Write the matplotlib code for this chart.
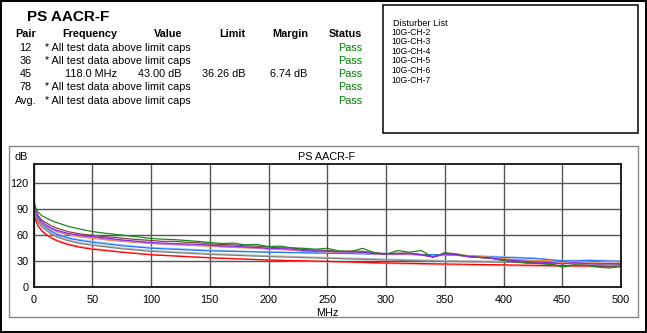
import matplotlib
matplotlib.use("Agg")
import matplotlib.pyplot as plt
from matplotlib.patches import Rectangle

plt.rcParams['font.family'] = ['Liberation Sans', 'DejaVu Sans']

# ---- result table ----
title = "PS AACR-F"
headers = ["Pair", "Frequency", "Value", "Limit", "Margin", "Status"]
pairs = ["12", "36", "45", "78", "Avg."]
freq_text = ["* All test data above limit caps", "* All test data above limit caps",
             "118.0 MHz", "* All test data above limit caps", "* All test data above limit caps"]
value_text = ["", "", "43.00 dB", "", ""]
limit_text = ["", "", "36.26 dB", "", ""]
margin_text = ["", "", "6.74 dB", "", ""]
status_text = ["Pass", "Pass", "Pass", "Pass", "Pass"]

disturbers = ["10G-CH-2", "10G-CH-3", "10G-CH-4", "10G-CH-5", "10G-CH-6", "10G-CH-7"]

# ---- curve data (MHz, dB) ----
f_smooth = [1, 2, 4, 7, 10, 15, 20, 30, 40, 50, 75, 100, 150, 200, 250, 300, 350, 375,
            400, 425, 450, 475, 500]
red = [81, 76, 70, 64.5, 61, 56.5, 53, 48.5, 45.5, 43.5, 40, 37, 33.5, 31, 29.5, 27.7,
       26.5, 26, 25.5, 25, 24.5, 24.2, 24]
pink = [82, 77, 71, 65.5, 62, 57.5, 54, 49.5, 46.5, 44.5, 40.5, 37.5, 34, 31, 29, 27,
        25.5, 25, 24.5, 24, 23.5, 23.2, 23]
gray = [85, 80, 74.5, 69.5, 66, 61, 57.5, 53, 50, 48, 44, 41, 37.5, 35, 33, 31, 29.5,
        29, 28.5, 27.8, 27, 26.5, 26]
lightgray = [86, 81, 75.5, 70.5, 67, 62, 58.5, 54, 51, 49, 45, 42, 38.5, 36, 34, 32.2,
             30.5, 30, 29.2, 28.5, 27.5, 27, 26.5]
blue = [88, 83, 77.5, 72.5, 69, 64, 60.5, 56, 53.5, 51.5, 47.5, 44.6, 41.5, 40, 38.9,
        37.7, 37, 35.5, 34, 33, 30, 30.5, 29.5]
lightblue = [89, 84, 78.5, 73.5, 70, 65, 61.5, 57, 54.5, 52.5, 48.5, 45.5, 42.5, 40.5,
             39, 38, 37, 36, 35, 33.5, 30.5, 31, 30]

f_meas = [1, 2, 4, 7, 10, 15, 20, 30, 40, 50, 60, 70, 80, 90, 100, 110, 120, 130, 140,
          150, 160, 170, 180, 190, 200, 210, 220, 230, 240, 250, 260, 270, 280, 290,
          300, 310, 320, 330, 340, 350, 360, 370, 380, 390, 400, 410, 420, 430, 440,
          450, 460, 470, 480, 490, 500]
green = [96.5, 91, 86, 82, 80, 76.5, 74, 69.6, 66.5, 63.8, 62, 60.5, 59, 57.5, 55.8,
         55, 54.5, 53.5, 52.5, 51.2, 50, 50.5, 48.5, 49, 46.5, 47, 45, 44.5, 43.5, 44.5,
         41.5, 40.5, 44.5, 39.5, 37.5, 42, 40, 42, 34, 39.5, 38, 35, 34, 33, 30.5, 29,
         27.5, 27, 26, 23, 25, 25, 23, 21.8, 23.5]
brown = [93, 87.5, 82, 77, 74.5, 70.5, 67.5, 63.5, 61, 59.5, 58, 57, 55.5, 54.5, 53.5,
         52.5, 52.5, 51.5, 51, 49.5, 49, 48.5, 47.5, 47, 46, 45, 45, 43, 42.5, 42, 41,
         41.5, 41, 39.5, 38.5, 39, 39, 37.5, 35, 38.5, 37.5, 35, 34, 33, 30.5, 29, 28,
         27.5, 26.5, 24, 25.5, 25, 24, 23.5, 24]
orange = [90, 84.5, 78.5, 73.5, 70.5, 66.5, 63.5, 60, 57.5, 56, 54.5, 53, 52, 51, 50,
          49.5, 48.5, 48, 47.5, 47, 46, 45.5, 45, 44.5, 43.5, 43, 42.5, 41.5, 41, 40.5,
          40, 40, 39.5, 38.5, 38, 37.5, 38, 37, 35, 37.5, 38, 36, 35, 34, 32.5, 31.5,
          31, 30.5, 30, 28, 29.5, 29, 28.5, 29.5, 28.5]
magenta = [91, 85, 79, 74, 71, 67, 64, 60.5, 58.5, 57, 55.5, 54, 53, 51.5, 50.5, 49.5,
           49, 48.5, 48, 47.5, 46.5, 46, 45.5, 44.5, 44, 43.5, 42.5, 41.5, 41, 40.5,
           40, 39.5, 39, 38, 37.5, 37.5, 37.5, 36.5, 34.5, 37, 36.5, 35, 34, 33, 31.5,
           31, 30, 29, 28.5, 27, 28, 27.5, 27, 27.5, 27]
purple = [92, 86, 80, 75, 72, 68, 65, 61.5, 59.5, 58, 56.5, 55, 53.5, 52.5, 51.2, 50.5,
          50, 49.5, 49, 48.1, 47.5, 47, 46, 45.5, 44.5, 44.5, 43.5, 42, 41.5, 41.2,
          40.5, 40.5, 40, 38.5, 38, 38, 38.5, 37, 34.5, 38, 37, 35, 34, 33, 31.5, 30.5,
          29.5, 28.5, 28, 26.5, 28, 27, 26.5, 27, 26.5]

x_ticks = [0, 50, 100, 150, 200, 250, 300, 350, 400, 450, 500]
y_ticks = [0, 30, 60, 90, 120]

W, H = 647, 333
fig = plt.figure(figsize=(W / 100, H / 100), dpi=100)


def fx(px):
    return px / W


def fy(py):
    return 1 - py / H


# outer frame
fig.patches.append(Rectangle((fx(1), fy(332)), fx(645), 331 / H, transform=fig.transFigure,
                             fill=False, edgecolor="black", linewidth=1.4))
# disturber box
fig.patches.append(Rectangle((fx(383), fy(133)), fx(255), 128 / H, transform=fig.transFigure,
                             fill=False, edgecolor="black", linewidth=1.1))
# chart panel
fig.patches.append(Rectangle((fx(9), fy(317)), fx(629), 171 / H, transform=fig.transFigure,
                             fill=False, edgecolor="#888888", linewidth=1.0))

fig.text(fx(27), fy(16.7), title, fontsize=11, fontweight="bold", ha="left", va="center")

fs = 7.8
hdr_y = 34
fig.text(fx(26), fy(hdr_y), headers[0], fontsize=fs, fontweight="bold", ha="center", va="center")
fig.text(fx(117), fy(hdr_y), headers[1], fontsize=fs, fontweight="bold", ha="right", va="center")
fig.text(fx(182), fy(hdr_y), headers[2], fontsize=fs, fontweight="bold", ha="right", va="center")
fig.text(fx(245), fy(hdr_y), headers[3], fontsize=fs, fontweight="bold", ha="right", va="center")
fig.text(fx(308), fy(hdr_y), headers[4], fontsize=fs, fontweight="bold", ha="right", va="center")
fig.text(fx(362), fy(hdr_y), headers[5], fontsize=fs, fontweight="bold", ha="right", va="center")

row_y = [47.7, 61, 74.2, 87.5, 100.5]
for i, y in enumerate(row_y):
    fig.text(fx(25.5), fy(y), pairs[i], fontsize=fs, ha="center", va="center")
    if freq_text[i].startswith("*"):
        fig.text(fx(45), fy(y), freq_text[i], fontsize=fs, ha="left", va="center")
    else:
        fig.text(fx(117), fy(y), freq_text[i], fontsize=fs, ha="right", va="center")
    fig.text(fx(181), fy(y), value_text[i], fontsize=fs, ha="right", va="center")
    fig.text(fx(245), fy(y), limit_text[i], fontsize=fs, ha="right", va="center")
    fig.text(fx(307), fy(y), margin_text[i], fontsize=fs, ha="right", va="center")
    fig.text(fx(362), fy(y), status_text[i], fontsize=fs, ha="right", va="center",
             color="#008000")

fig.text(fx(393), fy(23.3), "Disturber List", fontsize=6.6, ha="left", va="center")
for i, d in enumerate(disturbers):
    fig.text(fx(391), fy(32.3 + i * 9.55), d, fontsize=6.2, ha="left", va="center")

# chart
ax = fig.add_axes([fx(33.5), fy(287), fx(621 - 33.5), (287 - 164) / H])
ax.set_xlim(0, 500)
ax.set_ylim(0, 141.5)
ax.set_xticks(x_ticks)
ax.set_yticks(y_ticks)
ax.grid(True, color="#555555", linewidth=1.0)
ax.set_axisbelow(True)
ax.tick_params(length=0, labelsize=7.8, pad=3.5)
ax.tick_params(axis="x", pad=6)
for s in ax.spines.values():
    s.set_linewidth(1.2)
    s.set_color("black")

lw = 0.9
ax.plot(f_smooth, pink, color="#ff9a9a", lw=lw)
ax.plot(f_smooth, red, color="#ff0000", lw=lw)
ax.plot(f_smooth, lightgray, color="#bdbdbd", lw=lw)
ax.plot(f_smooth, gray, color="#808080", lw=lw)
ax.plot(f_smooth, lightblue, color="#a6c4ff", lw=lw)
ax.plot(f_smooth, blue, color="#1e78ff", lw=lw)
ax.plot(f_meas, orange, color="#ff8c1a", lw=lw)
ax.plot(f_meas, magenta, color="#d27ad2", lw=lw)
ax.plot(f_meas, brown, color="#7a4a3a", lw=lw)
ax.plot(f_meas, green, color="#1a8a1a", lw=lw)
ax.plot(f_meas, purple, color="#8a2be2", lw=lw)

fig.text(fx(21.5), fy(157), "dB", fontsize=7.8, ha="center", va="center")
fig.text(fx(326.5), fy(157), "PS AACR-F", fontsize=7.8, ha="center", va="center")
fig.text(fx(327), fy(312.5), "MHz", fontsize=7.8, ha="center", va="center")

fig.savefig("out.png", dpi=100)
